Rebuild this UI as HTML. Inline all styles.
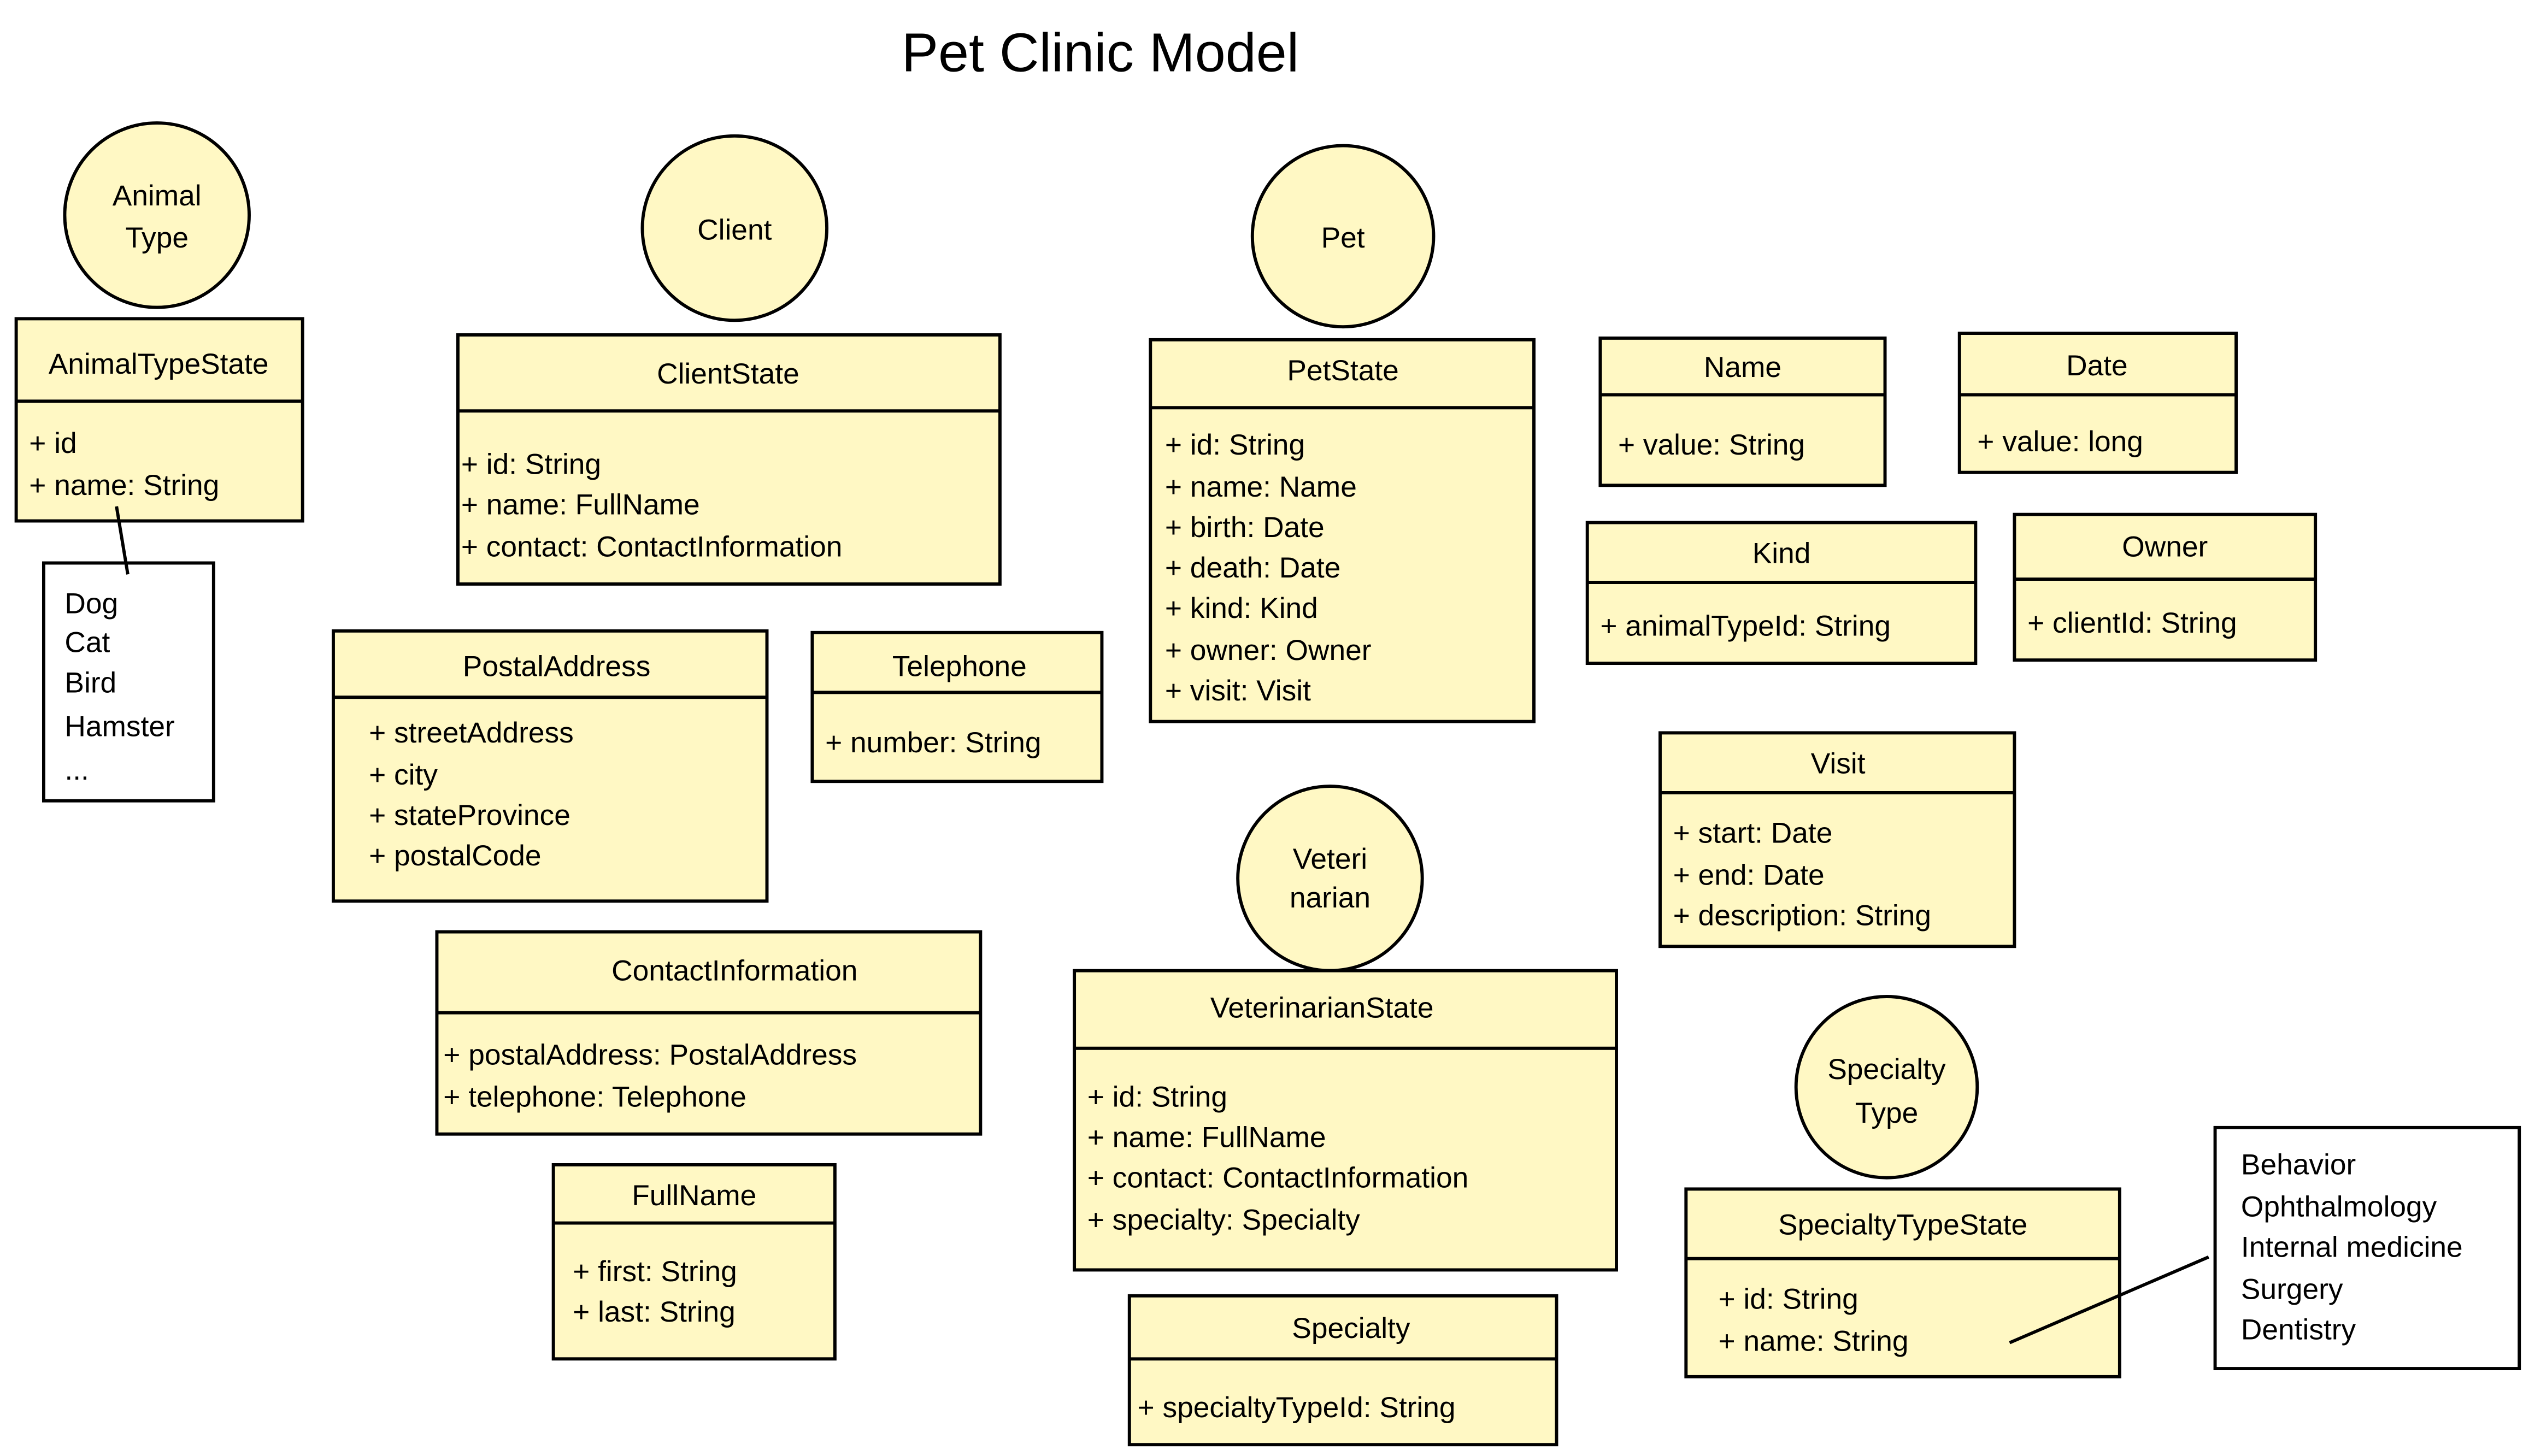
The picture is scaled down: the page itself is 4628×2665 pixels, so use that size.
<!DOCTYPE html>
<html><head><meta charset="utf-8"><style>
html,body{margin:0;padding:0;background:#fff;width:4628px;height:2665px;overflow:hidden}
svg text{font-family:"Liberation Sans",sans-serif;font-size:18px;fill:#000}
</style></head><body>
<svg width="4628" height="2665" viewBox="0 0 1563 900" xmlns="http://www.w3.org/2000/svg">
<g fill="#fff8c4" stroke="#000" stroke-width="2">
<circle cx="97" cy="133" r="57"/>
<circle cx="454" cy="141" r="57"/>
<circle cx="830" cy="146" r="56"/>
<circle cx="822" cy="543" r="57"/>
<circle cx="1166" cy="672" r="56"/>
<rect x="10" y="197" width="177" height="125"/>
<rect x="283" y="207" width="335" height="154"/>
<rect x="711" y="210" width="237" height="236"/>
<rect x="989" y="209" width="176" height="91"/>
<rect x="1211" y="206" width="171" height="86"/>
<rect x="981" y="323" width="240" height="87"/>
<rect x="1245" y="318" width="186" height="90"/>
<rect x="1026" y="453" width="219" height="132"/>
<rect x="206" y="390" width="268" height="167"/>
<rect x="502" y="391" width="179" height="92"/>
<rect x="270" y="576" width="336" height="125"/>
<rect x="342" y="720" width="174" height="120"/>
<rect x="664" y="600" width="335" height="185"/>
<rect x="698" y="801" width="264" height="92"/>
<rect x="1042" y="735" width="268" height="116"/>
</g>
<g fill="#fff" stroke="#000" stroke-width="2">
<rect x="27" y="348" width="105" height="147"/>
<rect x="1369" y="697" width="188" height="149"/>
</g>
<g stroke="#000" stroke-width="2">
<line x1="10" y1="248" x2="187" y2="248"/>
<line x1="283" y1="254" x2="618" y2="254"/>
<line x1="711" y1="252" x2="948" y2="252"/>
<line x1="989" y1="244" x2="1165" y2="244"/>
<line x1="1211" y1="244" x2="1382" y2="244"/>
<line x1="981" y1="360" x2="1221" y2="360"/>
<line x1="1245" y1="358" x2="1431" y2="358"/>
<line x1="1026" y1="490" x2="1245" y2="490"/>
<line x1="206" y1="431" x2="474" y2="431"/>
<line x1="502" y1="428" x2="681" y2="428"/>
<line x1="270" y1="626" x2="606" y2="626"/>
<line x1="342" y1="756" x2="516" y2="756"/>
<line x1="664" y1="648" x2="999" y2="648"/>
<line x1="698" y1="840" x2="962" y2="840"/>
<line x1="1042" y1="778" x2="1310" y2="778"/>
<line x1="72" y1="313" x2="79" y2="355"/>
<line x1="1242" y1="830" x2="1365" y2="777"/>
</g>
<text x="680" y="44" text-anchor="middle" style="font-size:34px">Pet Clinic Model</text>
<g text-anchor="middle">
<text x="97" y="127">Animal</text><text x="97" y="153">Type</text>
<text x="454" y="148">Client</text>
<text x="830" y="153">Pet</text>
<text x="822" y="537">Veteri</text><text x="822" y="561">narian</text>
<text x="1166" y="667">Specialty</text><text x="1166" y="694">Type</text>
<text x="98" y="231">AnimalTypeState</text>
<text x="450" y="237">ClientState</text>
<text x="830" y="235">PetState</text>
<text x="1077" y="233">Name</text>
<text x="1296" y="232">Date</text>
<text x="1101" y="348">Kind</text>
<text x="1338" y="344">Owner</text>
<text x="1136" y="478">Visit</text>
<text x="344" y="418">PostalAddress</text>
<text x="593" y="418">Telephone</text>
<text x="454" y="606">ContactInformation</text>
<text x="429" y="745">FullName</text>
<text x="817" y="629">VeterinarianState</text>
<text x="835" y="827">Specialty</text>
<text x="1176" y="763">SpecialtyTypeState</text>
</g>
<text x="18" y="280">+ id</text><text x="18" y="306">+ name: String</text>
<text x="40" y="379">Dog</text><text x="40" y="403">Cat</text><text x="40" y="428">Bird</text><text x="40" y="455">Hamster</text><text x="40" y="482">...</text>
<text x="285" y="293">+ id: String</text><text x="285" y="318">+ name: FullName</text><text x="285" y="344">+ contact: ContactInformation</text>
<text x="720" y="281">+ id: String</text><text x="720" y="307">+ name: Name</text><text x="720" y="332">+ birth: Date</text><text x="720" y="357">+ death: Date</text><text x="720" y="382">+ kind: Kind</text><text x="720" y="408">+ owner: Owner</text><text x="720" y="433">+ visit: Visit</text>
<text x="1000" y="281">+ value: String</text>
<text x="1222" y="279">+ value: long</text>
<text x="989" y="393">+ animalTypeId: String</text>
<text x="1253" y="391">+ clientId: String</text>
<text x="1034" y="521">+ start: Date</text><text x="1034" y="547">+ end: Date</text><text x="1034" y="572">+ description: String</text>
<text x="228" y="459">+ streetAddress</text><text x="228" y="485">+ city</text><text x="228" y="510">+ stateProvince</text><text x="228" y="535">+ postalCode</text>
<text x="510" y="465">+ number: String</text>
<text x="274" y="658">+ postalAddress: PostalAddress</text><text x="274" y="684">+ telephone: Telephone</text>
<text x="354" y="792">+ first: String</text><text x="354" y="817">+ last: String</text>
<text x="672" y="684">+ id: String</text><text x="672" y="709">+ name: FullName</text><text x="672" y="734">+ contact: ContactInformation</text><text x="672" y="760">+ specialty: Specialty</text>
<text x="703" y="876">+ specialtyTypeId: String</text>
<text x="1062" y="809">+ id: String</text><text x="1062" y="835">+ name: String</text>
<text x="1385" y="726">Behavior</text><text x="1385" y="752">Ophthalmology</text><text x="1385" y="777">Internal medicine</text><text x="1385" y="803">Surgery</text><text x="1385" y="828">Dentistry</text>
</svg>
</body></html>
